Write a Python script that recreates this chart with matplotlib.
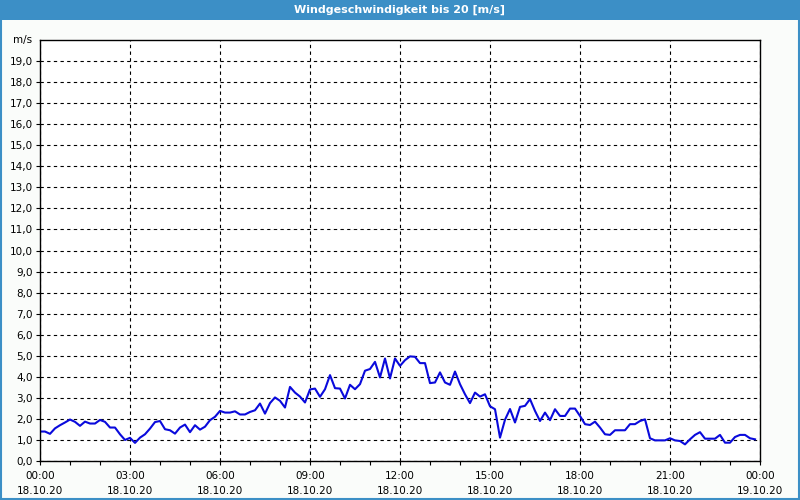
import numpy as np
import matplotlib
matplotlib.use("Agg")
import matplotlib.pyplot as plt
from matplotlib.patches import Rectangle

# wind speed readings every 10 minutes starting 18.10.20 00:00 (m/s)
speed = [
    1.40, 1.40, 1.29, 1.55, 1.70, 1.83, 1.97, 1.86, 1.67, 1.87, 1.78, 1.78,
    1.95, 1.86, 1.59, 1.59, 1.27, 1.00, 1.10, 0.86, 1.11, 1.27, 1.54, 1.85,
    1.90, 1.51, 1.46, 1.30, 1.59, 1.73, 1.37, 1.70, 1.49, 1.63, 1.94, 2.10,
    2.38, 2.30, 2.30, 2.36, 2.21, 2.21, 2.33, 2.41, 2.73, 2.25, 2.75, 3.02,
    2.86, 2.54, 3.52, 3.25, 3.06, 2.78, 3.40, 3.44, 3.05, 3.41, 4.08, 3.46,
    3.44, 2.97, 3.62, 3.41, 3.65, 4.29, 4.37, 4.71, 3.97, 4.87, 3.92, 4.87,
    4.52, 4.79, 4.97, 4.95, 4.65, 4.65, 3.70, 3.73, 4.21, 3.73, 3.62, 4.25,
    3.65, 3.17, 2.75, 3.25, 3.06, 3.17, 2.60, 2.46, 1.11, 1.96, 2.47, 1.83,
    2.57, 2.62, 2.94, 2.38, 1.90, 2.30, 1.94, 2.46, 2.14, 2.14, 2.49, 2.49,
    2.14, 1.75, 1.71, 1.87, 1.59, 1.27, 1.24, 1.46, 1.46, 1.46, 1.75, 1.75,
    1.90, 1.98, 1.08, 0.98, 0.98, 0.98, 1.08, 0.98, 0.95, 0.79, 1.03, 1.24,
    1.37, 1.06, 1.06, 1.06, 1.24, 0.87, 0.87, 1.14, 1.24, 1.24, 1.08, 1.03,
]
minutes = np.arange(len(speed)) * 10

tick_hours = [0, 3, 6, 9, 12, 15, 18, 21, 24]
tick_labels = ["00:00\n18.10.20", "03:00\n18.10.20", "06:00\n18.10.20",
               "09:00\n18.10.20", "12:00\n18.10.20", "15:00\n18.10.20",
               "18:00\n18.10.20", "21:00\n18.10.20", "00:00\n19.10.20"]
y_ticks = list(range(0, 20))

title = "Windgeschwindigkeit bis 20 [m/s]"
bar_blue = "#3c8fc6"

fig = plt.figure(figsize=(8, 5), dpi=100)
fig.patch.set_facecolor("#fafcfa")

# title bar and frame
fig.add_artist(Rectangle((0, 0.96), 1, 0.04, transform=fig.transFigure,
                         facecolor=bar_blue, edgecolor="none"))
fig.add_artist(Rectangle((0.001, 0.002), 0.9975, 0.996, transform=fig.transFigure,
                         facecolor="none", edgecolor=bar_blue, linewidth=1.5))
fig.text(0.5, 0.98, title, color="white", fontsize=8, fontweight="bold",
         ha="center", va="center")

ax = fig.add_axes([0.05, 0.078, 0.90, 0.842])
ax.set_facecolor("white")
ax.plot(minutes / 60, speed, color="#0a0adc", linewidth=1.5)

ax.set_xlim(0, 24)
ax.set_ylim(0, 20)
ax.set_xticks(tick_hours)
ax.set_xticklabels(tick_labels, fontsize=7.5, linespacing=1.7)
ax.set_xticks(np.arange(0, 25, 1), minor=True)
ax.set_yticks(y_ticks)
ax.set_yticklabels([f"{v},0" for v in y_ticks], fontsize=7.5)
ax.tick_params(axis="both", which="both", direction="out", length=3, width=0.8, pad=2)
ax.tick_params(axis="x", which="major", pad=4)
ax.text(-0.25, 20, "m/s", fontsize=7.5, ha="right", va="center")

ax.grid(True, which="major", color="black", linestyle=(0, (3, 3)), linewidth=0.8)
for s in ax.spines.values():
    s.set_color("black")
    s.set_linewidth(1)

fig.savefig("out.png", dpi=100, facecolor=fig.get_facecolor())
